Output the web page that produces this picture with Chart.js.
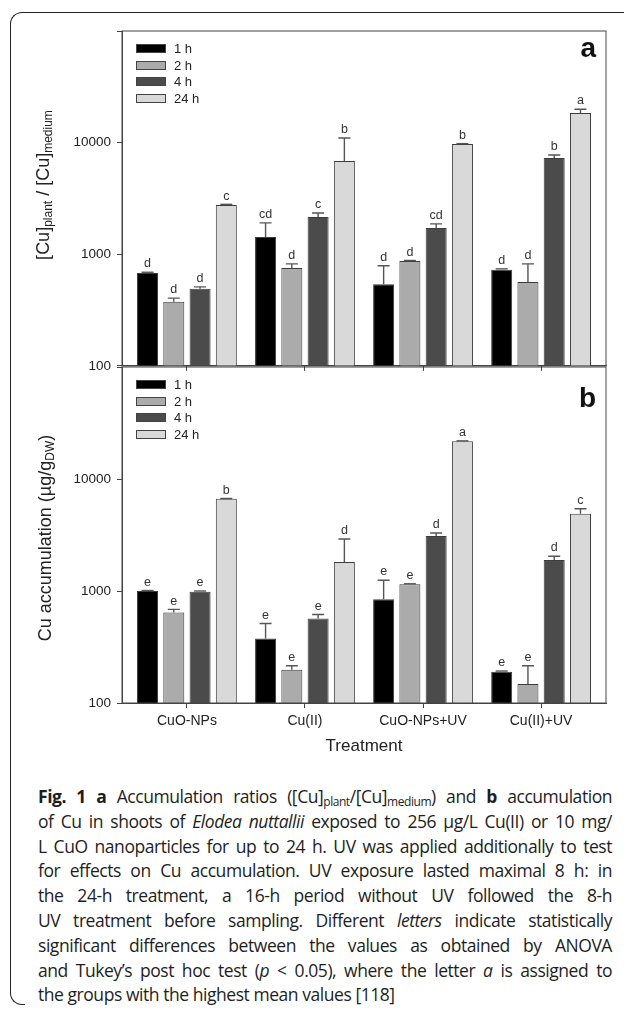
<!DOCTYPE html>
<html lang="en">
<head>
    <meta charset="UTF-8">
    <title>Fig. 1 Cu accumulation in Elodea nuttallii</title>
    <style>
        body {
            margin: 0;
            padding: 0;
            width: 624px;
            height: 1010px;
            overflow: hidden;
            position: relative;
            background: #fff;
            font-family: 'Liberation Sans', Arial, sans-serif;
            color: #222;
        }
        .frame {
            position: absolute;
            left: 10px;
            top: 12px;
            width: 660px;
            height: 980px;
            border-left: 1.5px solid #222;
            border-top: 1.5px solid #222;
            border-top-left-radius: 12px;
        }
        .corner {
            position: absolute;
            left: 10px;
            top: 990px;
            width: 14px;
            height: 14px;
            border-left: 1.5px solid #222;
            border-bottom: 1.5px solid #222;
            border-bottom-left-radius: 12px;
        }
        .panel {
            position: absolute;
            left: 0;
            width: 624px;
        }
        #panelA { top: 0; height: 380px; }
        #panelB { top: 340px; height: 430px; }
        .ytitle {
            position: absolute;
            transform: translate(-50%, -50%) rotate(-90deg);
            white-space: nowrap;
            font-size: 18px;
        }
        .ytitle sub {
            font-size: 12px;
            vertical-align: -3px;
            line-height: 0;
        }
        .caption {
            position: absolute;
            left: 38px;
            top: 784px;
            width: 574px;
            font-family: 'Open Sans', sans-serif;
            font-size: 17.5px;
            letter-spacing: -0.45px;
            line-height: 24.8px;
            color: #1e1e1e;
        }
        .caption div {
            text-align: justify;
            text-align-last: justify;
        }
        .caption div.last {
            text-align-last: left;
        }
        .caption sub {
            font-size: 12px;
            vertical-align: -3px;
            line-height: 0;
        }
    </style>
    <script src="https://cdn.jsdelivr.net/npm/chart.js"></script>
</head>
<body>
    <div class="frame"></div>
    <div class="corner"></div>

    <div class="panel" id="panelA"><canvas id="chartA"></canvas></div>
    <div class="panel" id="panelB"><canvas id="chartB"></canvas></div>

    <div class="ytitle" style="left:43px; top:185px;">[Cu]<sub>plant</sub> / [Cu]<sub>medium</sub></div>
    <div class="ytitle" style="left:45px; top:538px;">Cu accumulation (µg/g<sub>DW</sub>)</div>

    <div class="caption">
        <div><b>Fig. 1 a</b> Accumulation ratios ([Cu]<sub>plant</sub>/[Cu]<sub>medium</sub>) and <b>b</b> accumulation</div>
        <div>of Cu in shoots of <i>Elodea nuttallii</i> exposed to 256 µg/L Cu(II) or 10 mg/</div>
        <div>L CuO nanoparticles for up to 24 h. UV was applied additionally to test</div>
        <div>for effects on Cu accumulation. UV exposure lasted maximal 8 h: in</div>
        <div>the 24-h treatment, a 16-h period without UV followed the 8-h</div>
        <div>UV treatment before sampling. Different <i>letters</i> indicate statistically</div>
        <div>significant differences between the values as obtained by ANOVA</div>
        <div>and Tukey’s post hoc test (<i>p</i> &lt; 0.05), where the letter <i>a</i> is assigned to</div>
        <div class="last">the groups with the highest mean values [118]</div>
    </div>

    <script>
        const categories = ['CuO-NPs', 'Cu(II)', 'CuO-NPs+UV', 'Cu(II)+UV'];
        const times = ['1 h', '2 h', '4 h', '24 h'];
        const yTicks = [100, 1000, 10000, 100000];
        const fills = ['#000000', '#ababab', '#4b4b4b', '#d9d9d9'];

        // panel a: accumulation ratio [Cu]plant / [Cu]medium (mean, top of error bar, letter)
        const ratio1h = [680, 1430, 540, 725];
        const ratio2h = [375, 755, 870, 565];
        const ratio4h = [490, 2160, 1720, 7280];
        const ratio24h = [2760, 6850, 9700, 18400];
        const ratioErr1h = [690, 1910, 790, 740];
        const ratioErr2h = [405, 820, 880, 820];
        const ratioErr4h = [510, 2340, 1870, 7760];
        const ratioErr24h = [2800, 11000, 9800, 19900];
        const ratioLet1h = ['d', 'cd', 'd', 'd'];
        const ratioLet2h = ['d', 'd', 'd', 'd'];
        const ratioLet4h = ['d', 'c', 'cd', 'b'];
        const ratioLet24h = ['c', 'b', 'b', 'a'];

        // panel b: Cu accumulation (µg/g DW)
        const accum1h = [1000, 376, 842, 190];
        const accum2h = [644, 198, 1148, 148];
        const accum4h = [985, 569, 3100, 1888];
        const accum24h = [6670, 1811, 21700, 4890];
        const accumErr1h = [1010, 512, 1248, 193];
        const accumErr2h = [685, 215, 1160, 215];
        const accumErr4h = [1000, 617, 3300, 2045];
        const accumErr24h = [6700, 2915, 21900, 5420];
        const accumLet1h = ['e', 'e', 'e', 'e'];
        const accumLet2h = ['e', 'e', 'e', 'e'];
        const accumLet4h = ['e', 'e', 'd', 'd'];
        const accumLet24h = ['b', 'd', 'a', 'c'];

        const FONT = "'Liberation Sans', Arial, sans-serif";
        Chart.defaults.font.family = FONT;
        Chart.defaults.color = '#222';

        // frame box, legend inside plot, panel letter
        const framePlugin = {
            id: 'frameBox',
            afterDraw(chart, args, opts) {
                const { ctx, chartArea: a } = chart;
                ctx.save();
                ctx.strokeStyle = '#444';
                ctx.lineWidth = 1;
                ctx.strokeRect(a.left, a.top, a.right - a.left, a.bottom - a.top);

                ctx.font = '13px ' + FONT;
                ctx.textBaseline = 'middle';
                chart.data.datasets.forEach((ds, i) => {
                    const y = Math.round(a.top + 17 + i * 16.5);
                    ctx.fillStyle = ds.backgroundColor;
                    ctx.fillRect(a.left + 14, y - 4, 30, 9);
                    ctx.strokeStyle = '#444';
                    ctx.strokeRect(a.left + 14.5, y - 3.5, 29, 8);
                    ctx.fillStyle = '#222';
                    ctx.fillText(ds.label, a.left + 52, y + 1);
                });

                ctx.font = 'bold 28px ' + FONT;
                ctx.textAlign = 'right';
                ctx.textBaseline = 'alphabetic';
                ctx.fillStyle = '#111';
                ctx.fillText(opts.tag, a.right - 10, a.top + opts.tagY);
                ctx.restore();
            }
        };

        // upper error bars and significance letters
        const errorPlugin = {
            id: 'errorLetters',
            afterDatasetsDraw(chart, args, opts) {
                const { ctx } = chart;
                const yScale = chart.scales.y;
                ctx.save();
                ctx.strokeStyle = '#555';
                ctx.lineWidth = 1.4;
                ctx.fillStyle = '#333';
                ctx.font = '12.5px ' + FONT;
                ctx.textAlign = 'center';
                ctx.textBaseline = 'bottom';
                chart.data.datasets.forEach((ds, d) => {
                    chart.getDatasetMeta(d).data.forEach((bar, i) => {
                        const top = yScale.getPixelForValue(opts.upper[d][i]);
                        ctx.beginPath();
                        if (bar.y - top > 1) {
                            ctx.moveTo(bar.x, bar.y);
                            ctx.lineTo(bar.x, top);
                        }
                        ctx.moveTo(bar.x - 6, top);
                        ctx.lineTo(bar.x + 6, top);
                        ctx.stroke();
                        ctx.fillText(opts.letters[d][i], bar.x, top - 2);
                    });
                });
                ctx.restore();
            }
        };

        function makeDatasets(series) {
            return series.map((vals, d) => ({
                label: times[d],
                data: vals.map((v, i) => ({ x: i, y: v })),
                backgroundColor: fills[d],
                borderColor: '#3c3c3c',
                borderWidth: 1,
                barPercentage: 0.8,
                categoryPercentage: 0.89
            }));
        }

        function makeChart(id, series, upper, letters, opts) {
            return new Chart(document.getElementById(id), {
                type: 'bar',
                data: { datasets: makeDatasets(series) },
                options: {
                    responsive: true,
                    maintainAspectRatio: false,
                    animation: false,
                    layout: { padding: { top: opts.padTop, right: 18, left: 0, bottom: 0 } },
                    plugins: {
                        legend: { display: false },
                        tooltip: { enabled: false },
                        frameBox: { tag: opts.tag, tagY: opts.tagY },
                        errorLetters: { upper: upper, letters: letters }
                    },
                    scales: {
                        x: {
                            type: 'linear',
                            offset: false,
                            min: -0.55,
                            max: 3.55,
                            afterBuildTicks: s => { s.ticks = categories.map((c, i) => ({ value: i })); },
                            afterFit: s => { s.height = opts.xHeight; },
                            grid: { offset: false, drawOnChartArea: false, drawTicks: true, tickLength: 5, color: '#444' },
                            border: { display: true, color: '#444' },
                            ticks: {
                                callback: v => opts.showLabels ? categories[v] : '',
                                font: { size: 14 },
                                color: '#222',
                                padding: 5,
                                maxRotation: 0
                            },
                            title: {
                                display: opts.showLabels,
                                text: 'Treatment',
                                font: { size: 17 },
                                color: '#222',
                                padding: { top: 0, bottom: 13 }
                            }
                        },
                        y: {
                            type: 'logarithmic',
                            min: 100,
                            max: 100000,
                            afterBuildTicks: s => { s.ticks = yTicks.map(v => ({ value: v })); },
                            afterFit: s => { s.width = 122; },
                            grid: { drawOnChartArea: false, drawTicks: true, tickLength: 5, color: '#444' },
                            border: { display: true, color: '#444' },
                            ticks: {
                                callback: v => v < 100000 ? String(v) : '',
                                font: { size: 13.5 },
                                color: '#222',
                                padding: 6
                            }
                        }
                    }
                },
                plugins: [errorPlugin, framePlugin]
            });
        }

        makeChart('chartA',
            [ratio1h, ratio2h, ratio4h, ratio24h],
            [ratioErr1h, ratioErr2h, ratioErr4h, ratioErr24h],
            [ratioLet1h, ratioLet2h, ratioLet4h, ratioLet24h],
            { padTop: 31, xHeight: 14, showLabels: false, tag: 'a', tagY: 26 });

        makeChart('chartB',
            [accum1h, accum2h, accum4h, accum24h],
            [accumErr1h, accumErr2h, accumErr4h, accumErr24h],
            [accumLet1h, accumLet2h, accumLet4h, accumLet24h],
            { padTop: 27, xHeight: 67, showLabels: true, tag: 'b', tagY: 40 });
    </script>
</body>
</html>
